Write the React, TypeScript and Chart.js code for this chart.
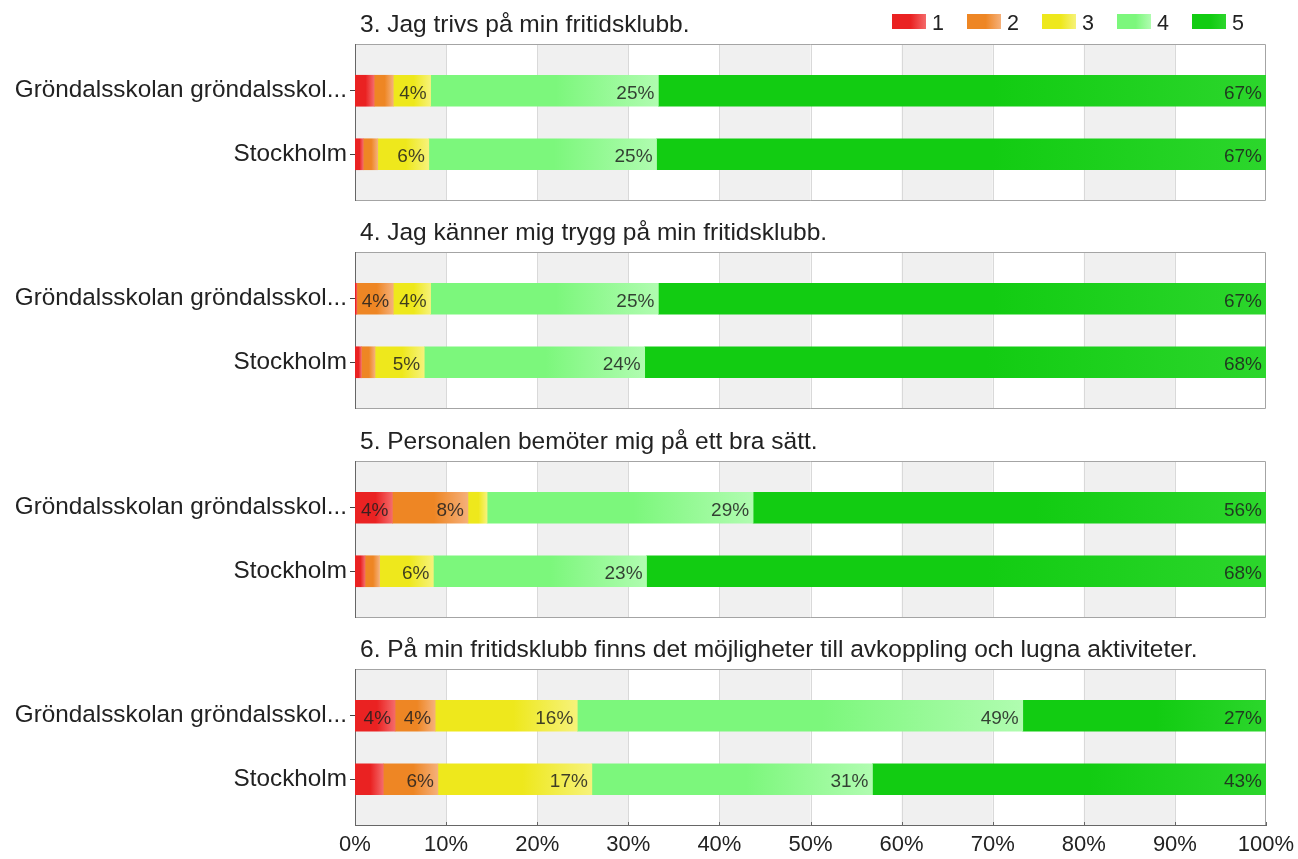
import React, { useEffect, useRef } from 'react';
import { Chart, registerables } from 'chart.js';

Chart.register(...registerables);

const FONT = "'Liberation Sans', Arial, Helvetica, sans-serif";

const categories = ['Gröndalsskolan gröndalsskol...', 'Stockholm'];
const answerLabels = ['1', '2', '3', '4', '5'];
const answerColors = ['#ea2222', '#ee8624', '#eee81c', '#7cf77c', '#12cc12'];
const answerLight = ['#f46a6a', '#f5b07a', '#f6f27a', '#b0fcb0', '#2cd62c'];

const questions = [
  '3. Jag trivs på min fritidsklubb.',
  '4. Jag känner mig trygg på min fritidsklubb.',
  '5. Personalen bemöter mig på ett bra sätt.',
  '6. På min fritidsklubb finns det möjligheter till avkoppling och lugna aktiviteter.',
];

// share (%) of answers 1..5, per category
const q3Grondal = [2.1, 2.1, 4.1, 25.0, 66.7];
const q3Stockholm = [0.9, 1.6, 5.6, 25.0, 66.9];
const q4Grondal = [0.2, 4.0, 4.1, 25.0, 66.7];
const q4Stockholm = [0.7, 1.5, 5.4, 24.2, 68.2];
const q5Grondal = [4.1, 8.3, 2.1, 29.2, 56.3];
const q5Stockholm = [1.1, 1.6, 5.9, 23.4, 68.0];
const q6Grondal = [4.4, 4.4, 15.6, 48.9, 26.7];
const q6Stockholm = [3.1, 6.0, 16.9, 30.8, 43.2];

const questionRows = [
  [q3Grondal, q3Stockholm],
  [q4Grondal, q4Stockholm],
  [q5Grondal, q5Stockholm],
  [q6Grondal, q6Stockholm],
];

const xTicks = [0, 10, 20, 30, 40, 50, 60, 70, 80, 90, 100];

const canvasTops = [0, 208, 417, 625];
const canvasHeights = [208, 209, 208, 234];

function segGradient(ctx: CanvasRenderingContext2D, x0: number, x1: number, d: number) {
  const g = ctx.createLinearGradient(x0, 0, x1, 0);
  g.addColorStop(0, answerColors[d]);
  g.addColorStop(0.55, answerColors[d]);
  g.addColorStop(1, answerLight[d]);
  return g;
}

const framePlugin = {
  id: 'frame',
  beforeDatasetsDraw(chart: any) {
    const { ctx, chartArea: a } = chart;
    const x = chart.scales.x;
    const top = a.top - 15;
    const bottom = a.bottom + 15;
    ctx.save();
    ctx.fillStyle = '#f0f0f0';
    for (let i = 0; i + 1 < xTicks.length; i += 2) {
      const x0 = x.getPixelForValue(xTicks[i]);
      const x1 = x.getPixelForValue(xTicks[i + 1]);
      ctx.fillRect(x0, top, x1 - x0, bottom - top);
    }
    ctx.strokeStyle = '#d9d9d9';
    ctx.lineWidth = 1;
    for (let i = 1; i < xTicks.length - 1; i++) {
      const px = Math.round(x.getPixelForValue(xTicks[i])) + 0.5;
      ctx.beginPath();
      ctx.moveTo(px, top);
      ctx.lineTo(px, bottom);
      ctx.stroke();
    }
    ctx.strokeStyle = '#a4a4a4';
    ctx.beginPath();
    ctx.moveTo(a.left, top + 0.5);
    ctx.lineTo(a.right - 0.5, top + 0.5);
    ctx.lineTo(a.right - 0.5, bottom - 0.5);
    ctx.lineTo(a.left, bottom - 0.5);
    ctx.stroke();
    ctx.strokeStyle = '#666666';
    ctx.beginPath();
    ctx.moveTo(a.left + 0.5, top);
    ctx.lineTo(a.left + 0.5, bottom);
    ctx.stroke();
    ctx.restore();
  },
};

function makeOverlayPlugin(qIndex: number) {
  return {
    id: 'overlay' + qIndex,
    afterDatasetsDraw(chart: any) {
      const { ctx, chartArea: a } = chart;
      const x = chart.scales.x;
      const isLast = qIndex === questions.length - 1;
      ctx.save();
      // value labels
      ctx.font = `19px ${FONT}`;
      ctx.fillStyle = 'rgba(30,30,30,0.85)';
      ctx.textAlign = 'right';
      ctx.textBaseline = 'middle';
      chart.data.datasets.forEach((ds: any, d: number) => {
        const meta = chart.getDatasetMeta(d);
        meta.data.forEach((el: any, i: number) => {
          const v = ds.data[i];
          if (v >= 3.5) {
            ctx.fillText(Math.round(v) + '%', el.x - 4, el.y + 3);
          }
        });
      });
      // title
      ctx.textAlign = 'left';
      ctx.textBaseline = 'alphabetic';
      ctx.fillStyle = '#222222';
      ctx.font = `24.5px ${FONT}`;
      ctx.fillText(questions[qIndex], a.left + 5, a.top - 15 - 12);
      // legend (first panel only)
      if (qIndex === 0) {
        ctx.font = `21.5px ${FONT}`;
        answerLabels.forEach((lab, d) => {
          const bx = 892 + 75 * d;
          ctx.fillStyle = segGradient(ctx, bx, bx + 34, d);
          ctx.fillRect(bx, 14, 34, 15);
          ctx.fillStyle = '#222222';
          ctx.fillText(lab, bx + 40, 30);
        });
      }
      // axis tick marks on last panel
      if (isLast) {
        const bottom = a.bottom + 15;
        ctx.strokeStyle = '#666666';
        ctx.beginPath();
        ctx.moveTo(a.left, bottom - 0.5);
        ctx.lineTo(a.right, bottom - 0.5);
        ctx.stroke();
        xTicks.forEach((t) => {
          const px = Math.round(x.getPixelForValue(t)) + 0.5;
          ctx.beginPath();
          ctx.moveTo(px, bottom - 4);
          ctx.lineTo(px, bottom);
          ctx.stroke();
        });
      }
      ctx.restore();
    },
  };
}

function Panel({ qIndex }: { qIndex: number }) {
  const ref = useRef<HTMLCanvasElement | null>(null);
  useEffect(() => {
    const canvas = ref.current;
    if (!canvas) return;
    const rows = questionRows[qIndex];
    const isLast = qIndex === questions.length - 1;
    const datasets = answerLabels.map((lab, d) => ({
      label: lab,
      data: rows.map((r) => r[d]),
      barThickness: 31,
      borderWidth: 0,
      backgroundColor: (c: any) => {
        const chart = c.chart;
        const xs = chart.scales && chart.scales.x;
        if (!xs || c.type !== 'data') return answerColors[d];
        const i = c.dataIndex;
        let start = 0;
        for (let k = 0; k < d; k++) start += chart.data.datasets[k].data[i];
        const end = start + chart.data.datasets[d].data[i];
        const x0 = xs.getPixelForValue(start);
        const x1 = xs.getPixelForValue(end);
        if (!isFinite(x0) || !isFinite(x1) || x1 - x0 < 1) return answerColors[d];
        return segGradient(chart.ctx, x0, x1, d);
      },
    }));
    const chart = new Chart(canvas, {
      type: 'bar',
      data: { labels: categories, datasets },
      options: {
        indexAxis: 'y',
        animation: false,
        responsive: false,
        maintainAspectRatio: false,
        devicePixelRatio: 1,
        layout: { padding: { left: 0, right: 32, top: 59, bottom: isLast ? 0 : canvasHeights[qIndex] - 186 } },
        plugins: {
          legend: { display: false },
          title: { display: false },
          tooltip: { enabled: false },
        },
        scales: {
          x: {
            type: 'linear',
            stacked: true,
            display: isLast,
            min: 0,
            max: 100,
            afterBuildTicks: (s: any) => {
              s.ticks = xTicks.map((v) => ({ value: v }));
            },
            afterFit: (s: any) => {
              s.paddingLeft = 0;
              s.paddingRight = 0;
              if (isLast) s.height = canvasHeights[qIndex] - 186;
            },
            ticks: {
              callback: (v: any) => v + '%',
              font: { family: FONT, size: 22 },
              color: '#222222',
              padding: 21,
              maxRotation: 0,
              autoSkip: false,
            },
            grid: { display: false, drawTicks: false },
            border: { display: false },
          },
          y: {
            type: 'category',
            stacked: true,
            offset: true,
            afterFit: (s: any) => {
              s.width = 355;
            },
            ticks: {
              font: { family: FONT, size: 24.3 },
              color: '#222222',
              padding: 3,
            },
            grid: {
              display: true,
              drawOnChartArea: false,
              drawTicks: true,
              tickLength: 5,
              offset: false,
              color: '#444444',
            },
            border: { display: false },
          },
        },
      },
      plugins: [framePlugin, makeOverlayPlugin(qIndex)],
    } as any);
    return () => chart.destroy();
  }, [qIndex]);
  return (
    <canvas
      ref={ref}
      width={1298}
      height={canvasHeights[qIndex]}
      style={{ position: 'absolute', left: 0, top: canvasTops[qIndex], width: 1298, height: canvasHeights[qIndex] }}
    />
  );
}

export default function App() {
  return (
    <div style={{ position: 'absolute', left: 0, top: 0, width: 1298, height: 859, background: '#ffffff', overflow: 'hidden' }}>
      {questions.map((_, q) => (
        <Panel key={q} qIndex={q} />
      ))}
    </div>
  );
}
